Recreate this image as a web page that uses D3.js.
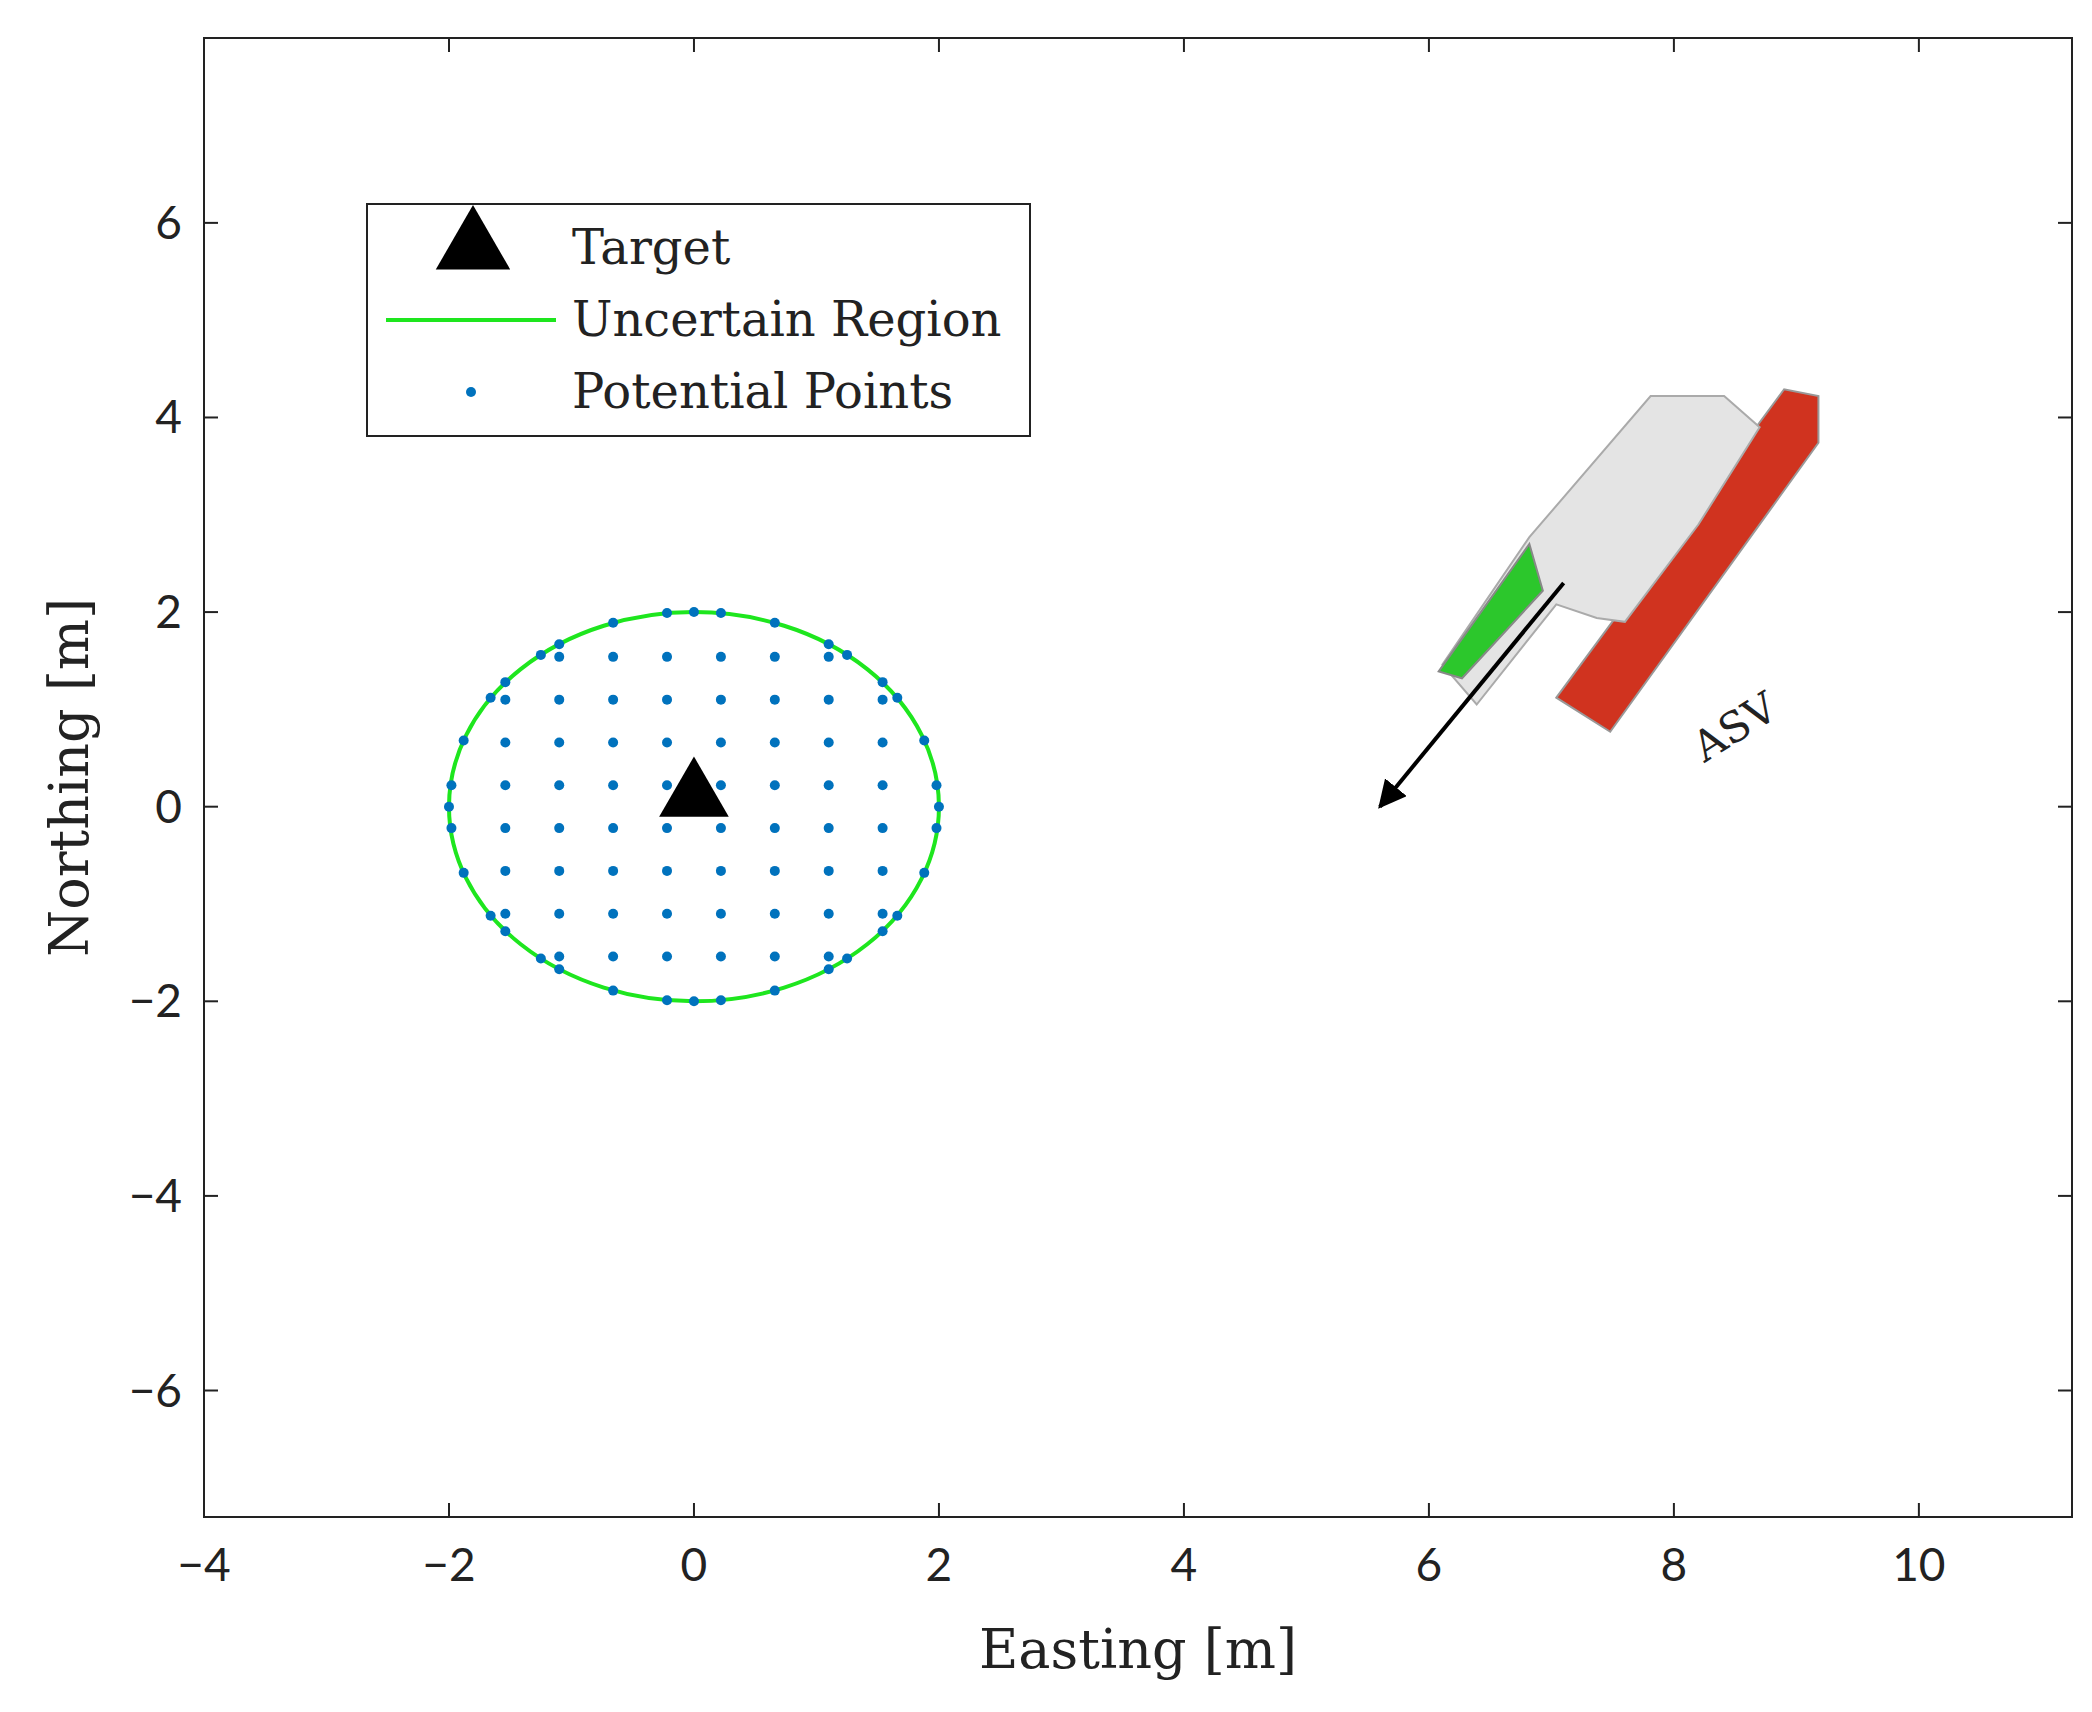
<!DOCTYPE html>
<html><head><meta charset="utf-8">
<script src="https://cdn.jsdelivr.net/npm/d3@7"></script>
<style>body{margin:0;background:#fff}</style></head>
<body><svg id="c" width="2092" height="1712"></svg>
<script>
const xTicks=[-4,-2,0,2,4,6,8,10];
const yTicks=[-6,-4,-2,0,2,4,6];
const target=[[0,0]];
const gridVals=[-1.54,-1.1,-0.66,-0.22,0.22,0.66,1.1,1.54];
const extraInterior=[[-1.98,0.22],[-1.98,-0.22],[1.98,0.22],[1.98,-0.22]];
const boundaryPts=[[0,2],[0,-2],[-2,0],[2,0],
 [-0.22,1.99],[0.22,1.99],[-0.22,-1.99],[0.22,-1.99],
 [-0.66,1.89],[0.66,1.89],[-0.66,-1.89],[0.66,-1.89],
 [-1.1,1.67],[1.1,1.67],[-1.1,-1.67],[1.1,-1.67],
 [-1.54,1.28],[1.54,1.28],[-1.54,-1.28],[1.54,-1.28],
 [-1.88,0.68],[1.88,0.68],[-1.88,-0.68],[1.88,-0.68],
 [-1.66,1.12],[1.66,1.12],[-1.66,-1.12],[1.66,-1.12],
 [-1.25,1.56],[1.25,1.56],[-1.25,-1.56],[1.25,-1.56]];
const regionRadius=2;
const arrow=[[7.1,2.3],[5.6,0]];
const boatDeck=[[6.11,1.46],[6.82,2.77],[7.81,4.22],[8.41,4.22],[8.7,3.9],[8.2,2.9],[7.6,1.9],[7.37,1.94],[7.04,2.08],[6.39,1.05]];
const boatRed=[[7.04,1.12],[8.9,4.29],[9.18,4.22],[9.18,3.74],[7.48,0.77]];
const boatGreen=[[6.08,1.39],[6.82,2.7],[6.93,2.22],[6.27,1.32]];

const L=204,R=2072,T=38,B=1517;
const x=d3.scaleLinear().domain([-4,11.25]).range([L,R]);
const y=d3.scaleLinear().domain([-7.3,7.9]).range([B,T]);
const svg=d3.select("#c");
const tickFont="Lato, 'Open Sans', sans-serif", serif="'DejaVu Serif', 'Liberation Serif', serif";

svg.append("rect").attr("x",L).attr("y",T).attr("width",R-L).attr("height",B-T).attr("fill","none").attr("stroke","#222").attr("stroke-width",2);
const tl=14;
xTicks.forEach(t=>{
 svg.append("line").attr("x1",x(t)).attr("x2",x(t)).attr("y1",B).attr("y2",B-tl).attr("stroke","#222").attr("stroke-width",2);
 svg.append("line").attr("x1",x(t)).attr("x2",x(t)).attr("y1",T).attr("y2",T+tl).attr("stroke","#222").attr("stroke-width",2);
 svg.append("text").attr("x",x(t)).attr("y",B+64).attr("text-anchor","middle").attr("font-family",tickFont).attr("font-size",46).attr("fill","#222").text(t<0?"\u2212"+(-t):t);
});
yTicks.forEach(t=>{
 svg.append("line").attr("y1",y(t)).attr("y2",y(t)).attr("x1",L).attr("x2",L+tl).attr("stroke","#222").attr("stroke-width",2);
 svg.append("line").attr("y1",y(t)).attr("y2",y(t)).attr("x1",R).attr("x2",R-tl).attr("stroke","#222").attr("stroke-width",2);
 svg.append("text").attr("x",L-22).attr("y",y(t)+16).attr("text-anchor","end").attr("font-family",tickFont).attr("font-size",46).attr("fill","#222").text(t<0?"\u2212"+(-t):t);
});
svg.append("text").attr("x",(L+R)/2).attr("y",1668).attr("text-anchor","middle").attr("font-family",serif).attr("font-size",54).attr("fill","#222").text("Easting [m]");
svg.append("text").attr("transform",`translate(88,${(T+B)/2}) rotate(-90)`).attr("text-anchor","middle").attr("font-family",serif).attr("font-size",54).attr("fill","#222").text("Northing [m]");

svg.append("ellipse").attr("cx",x(0)).attr("cy",y(0)).attr("rx",x(regionRadius)-x(0)).attr("ry",y(0)-y(regionRadius)).attr("fill","none").attr("stroke","#1ee61e").attr("stroke-width",4);
const pts=[];
gridVals.forEach(a=>gridVals.forEach(b=>{if(a*a+b*b<4)pts.push([a,b]);}));
svg.selectAll(".p").data(pts.concat(extraInterior,boundaryPts)).join("circle").attr("cx",d=>x(d[0])).attr("cy",d=>y(d[1])).attr("r",5).attr("fill","#0072BD");
const tri=d3.symbol().type(d3.symbolTriangle).size(2100);
svg.selectAll(".t").data(target).join("path").attr("d",tri).attr("transform",d=>`translate(${x(d[0])},${y(d[1])-10})`).attr("fill","#000");

const line=d3.line().x(d=>x(d[0])).y(d=>y(d[1]));
svg.append("path").attr("d",line(boatRed)+"Z").attr("fill","#d0331f").attr("stroke","#999").attr("stroke-width",2);
svg.append("path").attr("d",line(boatDeck)+"Z").attr("fill","#e4e4e4").attr("stroke","#aaa").attr("stroke-width",2);
svg.append("path").attr("d",line(boatGreen)+"Z").attr("fill","#2cc72c").attr("stroke","#888").attr("stroke-width",2);
svg.append("defs").append("marker").attr("id","ah").attr("viewBox","0 0 10 10").attr("refX",9).attr("refY",5).attr("markerWidth",7).attr("markerHeight",7).attr("orient","auto").append("path").attr("d","M0,0L10,5L0,10Z").attr("fill","#000");
svg.append("path").attr("d",line(arrow)).attr("stroke","#000").attr("stroke-width",4).attr("marker-end","url(#ah)");
svg.append("text").attr("transform",`translate(${x(8.25)},${y(0.45)}) rotate(-32)`).attr("font-family",serif).attr("font-size",42).attr("fill","#222").text("ASV");

const lg=svg.append("g");
lg.append("rect").attr("x",367).attr("y",204).attr("width",663).attr("height",232).attr("fill","#fff").attr("stroke","#222").attr("stroke-width",2);
lg.append("path").attr("d",d3.symbol().type(d3.symbolTriangle).size(2400)()).attr("transform","translate(473,248)").attr("fill","#000");
lg.append("line").attr("x1",386).attr("x2",556).attr("y1",320).attr("y2",320).attr("stroke","#1ee61e").attr("stroke-width",4);
lg.append("circle").attr("cx",471).attr("cy",392).attr("r",5).attr("fill","#0072BD");
[["Target",248],["Uncertain Region",320],["Potential Points",392]].forEach(([t,yy])=>lg.append("text").attr("x",572).attr("y",yy+16).attr("font-family",serif).attr("font-size",48).attr("fill","#222").text(t));
</script></body></html>
